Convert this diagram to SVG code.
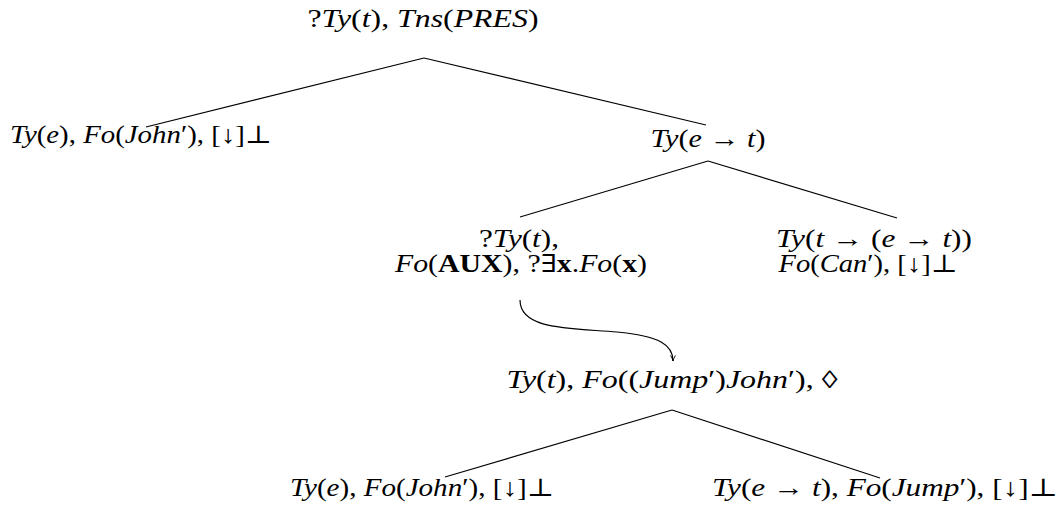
<svg xmlns="http://www.w3.org/2000/svg" width="1061" height="506" viewBox="0 0 1061 506">
<defs>
<style>
text{font-family:"Liberation Serif","DejaVu Serif",serif;font-size:25px;fill:#000;text-anchor:middle}
.i{font-style:italic}
.b{font-weight:bold}
.edge{stroke:#000;stroke-width:1.2;fill:none}
</style>
<marker id="arr" viewBox="0 0 10 10" refX="9" refY="5" markerWidth="7" markerHeight="7" orient="auto" markerUnits="userSpaceOnUse">
<path d="M1,1.5 Q5,4 9,5 Q5,6 1,8.5" fill="none" stroke="#000" stroke-width="1.3"/>
</marker>
</defs>
<rect width="1061" height="506" fill="#fff"/>
<g id="connectors">
<line class="edge" x1="424" y1="58" x2="146" y2="127"/>
<line class="edge" x1="424" y1="58" x2="706" y2="125"/>
<line class="edge" x1="708" y1="161" x2="520" y2="217"/>
<line class="edge" x1="708" y1="161" x2="897" y2="218"/>
<line class="edge" x1="672" y1="410" x2="445" y2="477"/>
<line class="edge" x1="672" y1="410" x2="880" y2="478"/>
<path class="edge" d="M520,300 C520,330 570,328 617,332 C660,336 673,345 673,361" marker-end="url(#arr)"/>
</g>
<g id="n-root"><text x="423" y="27" textLength="231" lengthAdjust="spacingAndGlyphs">?<tspan class="i">Ty</tspan>(<tspan class="i">t</tspan>), <tspan class="i">Tns</tspan>(<tspan class="i">PRES</tspan>)</text></g>
<g id="n-subj"><text x="141" y="143" textLength="262" lengthAdjust="spacingAndGlyphs"><tspan class="i">Ty</tspan>(<tspan class="i">e</tspan>), <tspan class="i">Fo</tspan>(<tspan class="i">John</tspan>′), [↓]⊥</text></g>
<g id="n-pred"><text x="708" y="147" textLength="115" lengthAdjust="spacingAndGlyphs"><tspan class="i">Ty</tspan>(<tspan class="i">e</tspan> → <tspan class="i">t</tspan>)</text></g>
<g id="n-aux"><text x="519" y="247" textLength="80" lengthAdjust="spacingAndGlyphs">?<tspan class="i">Ty</tspan>(<tspan class="i">t</tspan>),</text><text x="521" y="272" textLength="252" lengthAdjust="spacingAndGlyphs"><tspan class="i">Fo</tspan>(<tspan class="b">AUX</tspan>), ?∃<tspan class="b">x</tspan>.<tspan class="i">Fo</tspan>(<tspan class="b">x</tspan>)</text></g>
<g id="n-can"><text x="874" y="247" textLength="196" lengthAdjust="spacingAndGlyphs"><tspan class="i">Ty</tspan>(<tspan class="i">t</tspan> → (<tspan class="i">e</tspan> → <tspan class="i">t</tspan>))</text><text x="868" y="272" textLength="179" lengthAdjust="spacingAndGlyphs"><tspan class="i">Fo</tspan>(<tspan class="i">Can</tspan>′), [↓]⊥</text></g>
<g id="n-jump"><text x="672" y="388" textLength="331" lengthAdjust="spacingAndGlyphs"><tspan class="i">Ty</tspan>(<tspan class="i">t</tspan>), <tspan class="i">Fo</tspan>((<tspan class="i">Jump</tspan>′)<tspan class="i">John</tspan>′), ◊</text></g>
<g id="n-john2"><text x="422" y="496" textLength="264" lengthAdjust="spacingAndGlyphs"><tspan class="i">Ty</tspan>(<tspan class="i">e</tspan>), <tspan class="i">Fo</tspan>(<tspan class="i">John</tspan>′), [↓]⊥</text></g>
<g id="n-jumpfn"><text x="885" y="496" textLength="346" lengthAdjust="spacingAndGlyphs"><tspan class="i">Ty</tspan>(<tspan class="i">e</tspan> → <tspan class="i">t</tspan>), <tspan class="i">Fo</tspan>(<tspan class="i">Jump</tspan>′), [↓]⊥</text></g>
</svg>
